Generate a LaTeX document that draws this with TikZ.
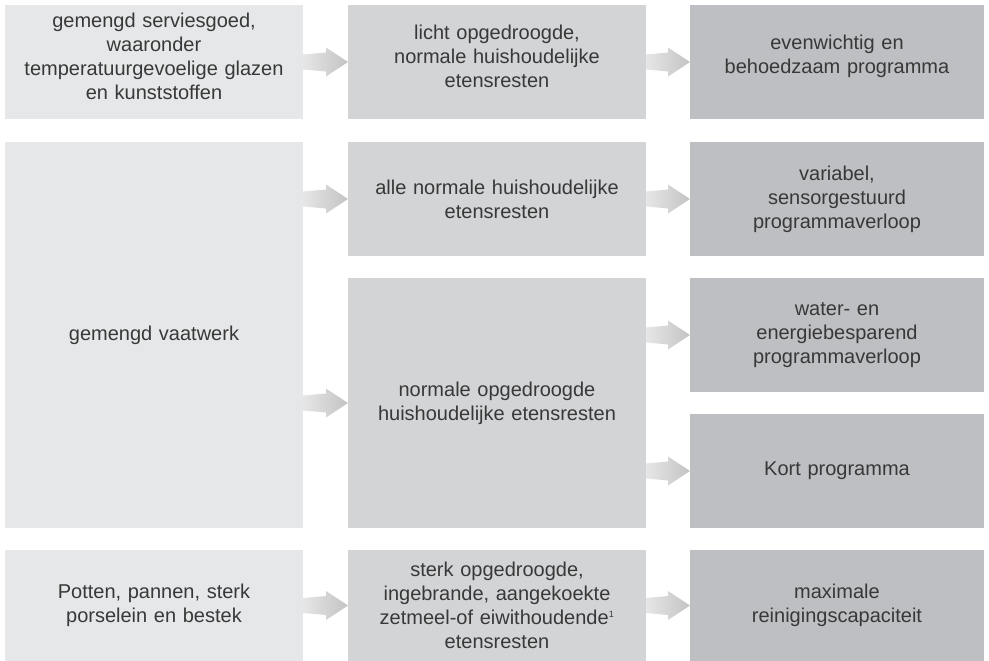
\documentclass[tikz,border=0pt]{standalone}
\usepackage{fontspec}
\setmainfont{Liberation Sans}
\usepackage{xcolor}
\usetikzlibrary{calc}

\definecolor{loadgray}{HTML}{E6E7E8}
\definecolor{soilgray}{HTML}{D3D4D6}
\definecolor{proggray}{HTML}{BEBFC2}
\definecolor{arrowlight}{HTML}{E6E6E6}
\definecolor{arrowdark}{HTML}{C3C3C3}
\definecolor{textgray}{HTML}{383838}

% shaded arrow from box #1 to box #2, at the height of #2
\newcommand{\flowarrow}[2]{%
  \shade[flow]
    ($(#1.east |- #2.west)+(0,7.5)$) -- ($(#2.west)+(-22,9.5)$)
    -- ($(#2.west)+(-22,14.5)$) -- (#2.west)
    -- ($(#2.west)+(-22,-14.5)$) -- ($(#2.west)+(-22,-9.5)$)
    -- ($(#1.east |- #2.west)+(0,-7.5)$) -- cycle;}

\begin{document}
\begin{tikzpicture}[
		x=1pt, y=1pt,
		every node/.style={font=\fontsize{20}{24}\selectfont, text=textgray},
		box/.style={rectangle, inner sep=4pt, outer sep=0pt, align=center},
		load/.style={box, fill=loadgray, minimum width=298, text width=285},
		soil/.style={box, fill=soilgray, minimum width=298, text width=285},
		prog/.style={box, fill=proggray, minimum width=294, text width=281},
		flow/.style={left color=arrowlight, right color=arrowdark, draw=none}
		]
		\useasboundingbox (0,0) rectangle (989,-661);
		
		% First row: delicate load
		\node[load, minimum height=114] (glass) at (154,-62) {};
		\node[soil, minimum height=114] (light) at (497,-62) {};
		\node[prog, minimum height=114] (gentle) at (837,-62) {};
		\node[box, text width=285] at ([yshift=6]glass.center)
			{gemengd serviesgoed,\\ waaronder\\ temperatuurgevoelige glazen\\ en kunststoffen};
		\node[box, text width=285] at ([yshift=6]light.center)
			{licht opgedroogde,\\ normale huishoudelijke\\ etensresten};
		\node[box, text width=281] at ([yshift=6]gentle.center)
			{evenwichtig en\\ behoedzaam programma};
		
		% Second row: mixed load
		\node[load, minimum height=386] (mixed) at (154,-335) {gemengd vaatwerk};
		\node[soil, minimum height=114] (normal) at (497,-199)
			{alle normale huishoudelijke\\ etensresten};
		\node[soil, minimum height=250] (dried) at (497,-403)
			{normale opgedroogde\\ huishoudelijke etensresten};
		\node[prog, minimum height=114] (sensor) at (837,-199)
			{variabel,\\ sensorgestuurd\\ programmaverloop};
		\node[prog, minimum height=114] (eco) at (837,-335)
			{water- en\\ energiebesparend\\ programmaverloop};
		\node[prog, minimum height=114] (short) at (837,-471) {Kort programma};
		
		% Third row: pots and pans
		\node[load, minimum height=111] (pots) at (154,-605.5)
			{Potten, pannen, sterk\\ porselein en bestek};
		\node[soil, minimum height=111] (burnt) at (497,-605.5)
			{sterk opgedroogde,\\ ingebrande, aangekoekte\\ zetmeel-of eiwithoudende\textsuperscript{\fontsize{9}{9}\selectfont 1}\\ etensresten};
		\node[prog, minimum height=111] (intense) at (837,-605.5)
			{maximale\\ reinigingscapaciteit};
		
		% Arrows
		\flowarrow{glass}{light}
		\flowarrow{light}{gentle}
		\flowarrow{mixed}{normal}
		\flowarrow{mixed}{dried}
		\flowarrow{normal}{sensor}
		\flowarrow{dried}{eco}
		\flowarrow{dried}{short}
		\flowarrow{pots}{burnt}
		\flowarrow{burnt}{intense}
		
	\end{tikzpicture}
\end{document}
